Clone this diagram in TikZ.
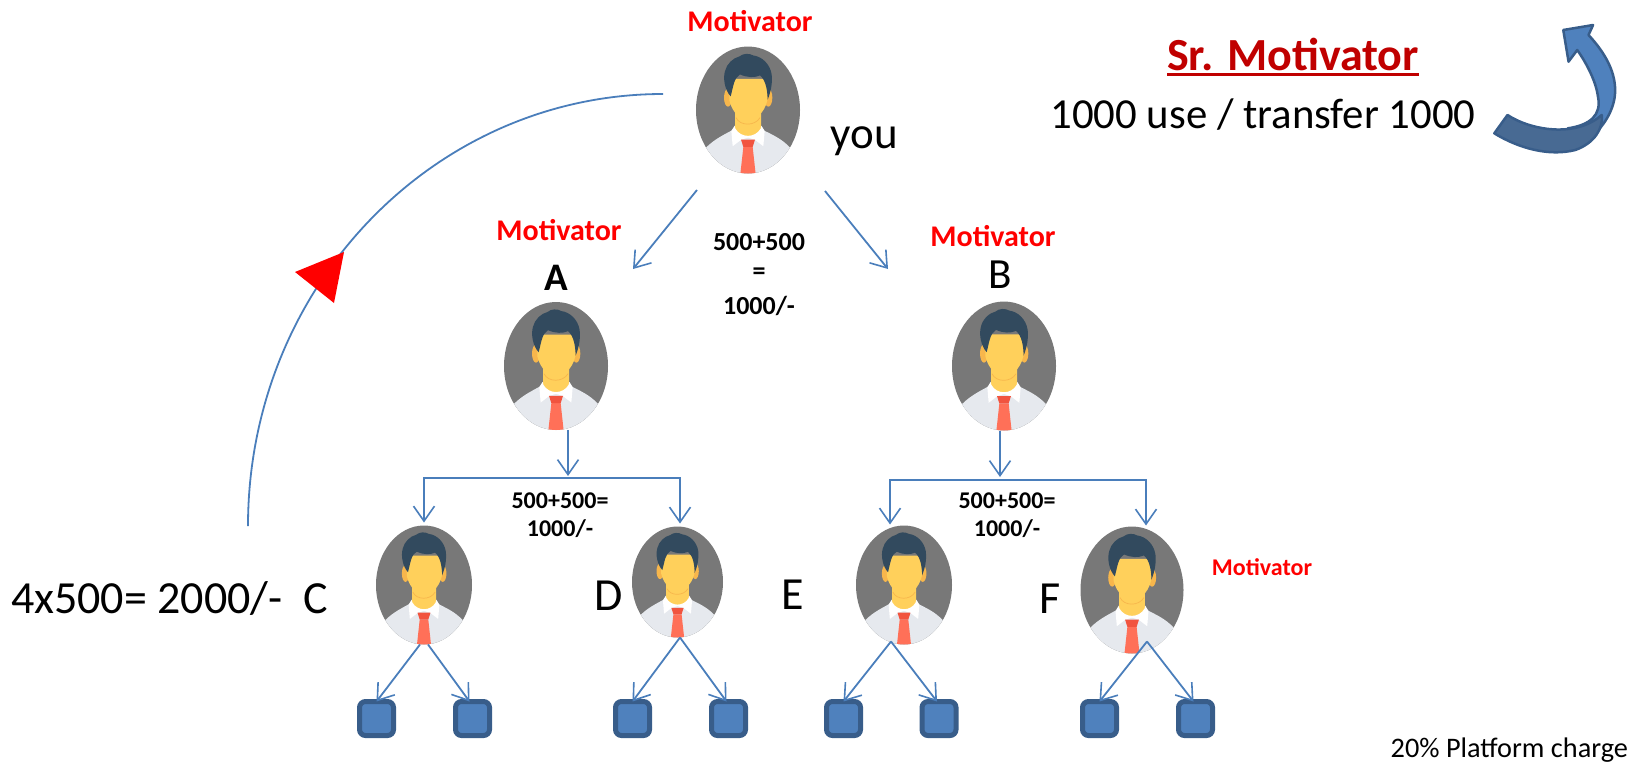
\documentclass[tikz,border=0pt]{standalone}
\usepackage{fontspec}
\setmainfont{Carlito}
\usetikzlibrary{arrows.meta,shapes.geometric}
\definecolor{linkblue}{HTML}{4A7EBB}
\definecolor{boxfill}{HTML}{4F81BD}
\definecolor{boxline}{HTML}{385D8A}
\definecolor{bgrey}{HTML}{787878}
\definecolor{shirt}{HTML}{E6E9EE}
\definecolor{skin}{HTML}{FFD05B}
\definecolor{skindark}{HTML}{F7B64C}
\definecolor{hair}{HTML}{324A5E}
\definecolor{tie}{HTML}{FF7058}
\definecolor{knot}{HTML}{F1543F}
\definecolor{srred}{HTML}{C00000}
\newcommand{\fsz}[1]{\fontsize{#1}{#1}\selectfont}
\newcommand{\person}[5]{%
  \begin{scope}[shift={(#2,#3)},xscale=#4/312,yscale=#5/382,shift={(-264,-329)}]
    \begin{scope}
      \clip (264,329) ellipse [x radius=156,y radius=191];
      \fill[bgrey] (90,120) rectangle (440,540);
      \fill[shirt] (138,442) .. controls (165,415) and (195,402) .. (225,385) -- (300,385) .. controls (335,402) and (365,415) .. (390,442) -- (430,560) -- (100,560) -- cycle;
      \fill[skin] (225,330) -- (225,385) .. controls (240,418) and (285,418) .. (303,385) -- (303,330) -- cycle;
      \draw[skindark,line width=.7pt] (228,352) .. controls (240,378) and (285,378) .. (300,352);
      \fill[white] (224,376) -- (214,392) -- (218,438) -- (244,418) -- (264,412) -- (284,418) -- (310,438) -- (314,392) -- (304,376) -- (302,385) .. controls (285,414) and (243,414) .. (226,385) -- cycle;
      \fill[tie] (250,440) -- (278,440) -- (287,522) -- (241,522) -- cycle;
      \fill[knot] (243,418) -- (285,418) -- (278,440) -- (250,440) -- cycle;
      \fill[skindark] (204,292) ellipse [x radius=12,y radius=27];
      \fill[skindark] (325,292) ellipse [x radius=12,y radius=27];
      \fill[skin] (208,235) -- (208,300) .. controls (218,342) and (245,358) .. (264,358) .. controls (285,358) and (312,342) .. (322,300) -- (322,235) -- cycle;
      \fill[hair] (212,288) .. controls (195,270) and (188,235) .. (195,212) .. controls (200,190) and (220,172) .. (238,168) .. controls (250,158) and (268,158) .. (280,165) .. controls (305,168) and (330,190) .. (335,222) .. controls (338,250) and (332,275) .. (323,298) .. controls (322,270) and (318,240) .. (300,225) .. controls (285,232) and (262,232) .. (240,222) .. controls (222,232) and (220,258) .. (212,288) -- cycle;
    \end{scope}
  \end{scope}
  \node[ellipse,minimum width=#4 pt,minimum height=#5 pt,inner sep=0pt,outer sep=0pt] (#1) at (#2,#3) {};
}
\tikzset{
  txt/.style={anchor=base,inner sep=0pt,outer sep=0pt,black},
  motivator/.style={txt,red,font=\bfseries\fsz{30}},
  amount/.style={txt,align=center,font=\bfseries\fsz{24}},
  letter/.style={txt,font=\fsz{46}},
  link/.style={linkblue,line width=1.8pt},
  linkarrow/.style={link,-{Straight Barb[length=15pt,width=21pt,line width=1.6pt]}},
  bothend/.style={link,{Straight Barb[length=15pt,width=21pt,line width=1.6pt]}-{Straight Barb[length=15pt,width=21pt,line width=1.6pt]}},
  leaf/.style={draw=boxline,fill=boxfill,line width=5pt,minimum size=34pt,inner sep=0pt,outer sep=0pt,rounded corners=6pt}
}
\begin{document}
\begin{tikzpicture}[x=1pt,y=-1pt]
\useasboundingbox (0,0) rectangle (1631,761);
% people
\person{you}{748}{110}{104}{127}
\person{A}{556}{366}{104}{128}
\person{B}{1004}{366}{104}{129}
\person{C}{424}{585}{96}{119}
\person{D}{677.5}{582}{91}{111}
\person{E}{904}{585}{96}{119}
\person{F}{1132}{590}{103}{127}
% leaves
\node[leaf] (c1) at (376.5,718.5) {};
\node[leaf] (c2) at (472.5,718.5) {};
\node[leaf] (d1) at (632.5,718.5) {};
\node[leaf] (d2) at (728.5,718.5) {};
\node[leaf] (e1) at (843.5,718.5) {};
\node[leaf] (e2) at (939,718.5) {};
\node[leaf] (f1) at (1099.5,718.5) {};
\node[leaf] (f2) at (1195.5,718.5) {};
% free ends
\coordinate (loopStart) at (248,526);
\coordinate (loopEnd) at (663,94);
\coordinate (youL) at (697,190);
\coordinate (youR) at (825,191);
\coordinate (toA) at (633,269);
\coordinate (toB) at (888,269);
\coordinate (busA) at (568,476);
\coordinate (busB) at (1000,477);
\coordinate (busAl) at (424,478);
\coordinate (busAr) at (680,478);
\coordinate (busBl) at (890,480);
\coordinate (busBr) at (1146,480);
% loop
\draw[link] (loopStart) .. controls (248,287) and (434,94) .. (loopEnd);
\fill[red] (295,272) -- (344,252) -- (334,303) -- cycle;
% top level
\draw[linkarrow] (youL) -- (toA);
\draw[linkarrow] (youR) -- (toB);
% A branch
\draw[linkarrow] ([xshift=12pt]A.south) -- (busA);
\draw[bothend] ([yshift=3pt]C.north) -- (busAl) -- (busAr) -- ([xshift=2.5pt,yshift=3pt]D.north);
% B branch
\draw[linkarrow] ([xshift=-4pt]B.south) -- (busB);
\draw[bothend] ([xshift=-14pt,yshift=1pt]E.north) -- (busBl) -- (busBr) -- ([xshift=14pt,yshift=1pt]F.north);
% leaves
\draw[linkarrow] ([xshift=-4pt]C.south) -- (c1.north);
\draw[linkarrow] ([xshift=4pt]C.south) -- ([xshift=-3pt]c2.north);
\draw[linkarrow] ([xshift=2.5pt]D.south) -- (d1.north);
\draw[linkarrow] ([xshift=2.5pt]D.south) -- ([xshift=-2pt]d2.north);
\draw[linkarrow] ([xshift=-13pt,yshift=3pt]E.south) -- (e1.north);
\draw[linkarrow] ([xshift=-13pt,yshift=3pt]E.south) -- ([xshift=-2pt]e2.north);
\draw[linkarrow] ([xshift=15pt,yshift=12pt]F.south) -- (f1.north);
\draw[linkarrow] ([xshift=15pt,yshift=12pt]F.south) -- ([xshift=-2pt]f2.north);
% curved arrow
\begin{scope}[shift={(1040,0)},xscale=0.377,yscale=0.3333]
  \draw[boxline,line width=2.5pt,fill=boxfill,line join=round] (1388,90) -- (1467,75) -- (1455,105) .. controls (1500,160) and (1530,220) .. (1525,285) .. controls (1520,340) and (1490,380) .. (1470,405) -- (1400,385) .. controls (1460,375) and (1490,345) .. (1480,290) .. controls (1475,245) and (1450,190) .. (1425,150) -- (1402,185) -- cycle;
  \draw[boxline,line width=2.5pt,fill=boxline!92!white,line join=round] (1240,345) .. controls (1300,390) and (1420,415) .. (1490,345) .. controls (1495,385) and (1470,430) .. (1420,450) .. controls (1350,470) and (1270,445) .. (1205,400) -- cycle;
\end{scope}
% texts
\node[motivator] (mTop) at (750,31) {Motivator};
\node[txt,font=\fsz{45}] (tYou) at (864,148) {you};
\node[txt,srred,font=\bfseries\fsz{46}] (tSr) at (1293,70) {Sr. Motivator};
\draw[srred,line width=3pt] ([yshift=-4pt]tSr.base west) -- ([yshift=-4pt]tSr.base east);
\node[txt,font=\fsz{42.8}] (tUse) at (1263,128) {1000 use / transfer 1000};
\node[motivator] (mA) at (559,240) {Motivator};
\node[txt,font=\bfseries\fsz{39}] (lA) at (556,290) {A};
\node[motivator] (mB) at (993,246) {Motivator};
\node[txt,font=\fsz{43}] (lB) at (1000.5,288) {B};
\node[txt,font=\bfseries\fsz{26}] (t1a) at (759,250) {500+500};
\node[txt,font=\bfseries\fsz{26}] (t1b) at (759,279) {=};
\node[txt,font=\bfseries\fsz{26}] (t1c) at (759,314) {1000/-};
\node[amount] (t2a) at (560,508) {500+500=};
\node[amount] (t2b) at (560,536) {1000/-};
\node[amount] (t3a) at (1007,508) {500+500=};
\node[amount] (t3b) at (1007,536) {1000/-};
\node[letter,anchor=base west] (tSum) at (11,613) {4x500= 2000/-\ \ C};
\node[letter] (lD) at (609,610) {D};
\node[letter] (lE) at (793,609) {E};
\node[letter] (lF) at (1050,613) {F};
\node[txt,red,font=\bfseries\fsz{24}] (mF) at (1262,575) {Motivator};
\node[txt,anchor=base east,font=\fsz{28.3}] (tCharge) at (1628,757) {20\% Platform charge};
\end{tikzpicture}
\end{document}
